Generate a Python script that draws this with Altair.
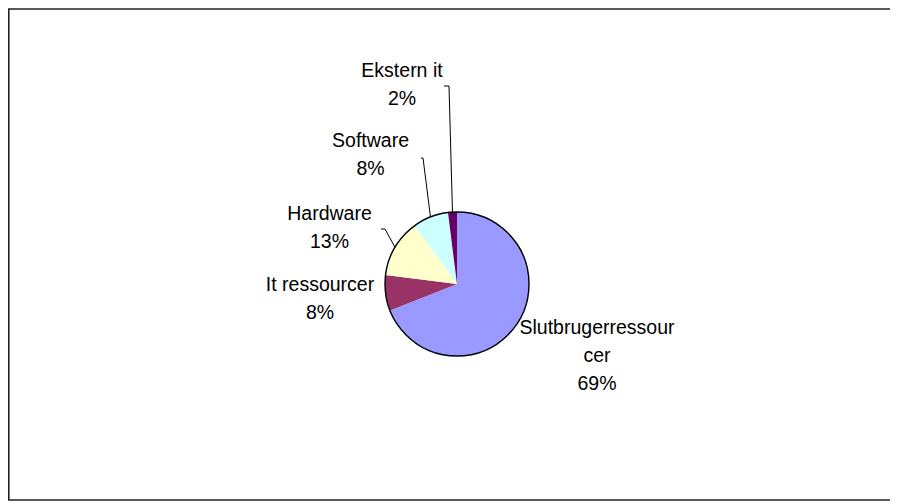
import altair as alt
import pandas as pd
import numpy as np
import textwrap

# ---- data ----
categories = ["Slutbrugerressourcer", "It ressourcer", "Hardware", "Software", "Ekstern it"]
values = [69, 8, 13, 8, 2]
colors = ["#9999FF", "#993366", "#FFFFCC", "#CCFFFF", "#660066"]

# ---- layout (pixels relative to pie centre) ----
W, H = 882, 494
CX, CY = 449, 276
R = 72
LH = 28
label_dx = [140, -137, -127.5, -86.5, -55]
label_dy = [71.5, 15, -56.5, -129, -199]
leader_elbow = [None, None, (-72, -55), (-34, -126), (-8, -198)]
leader_tick = [None, None, 4, 2, 5]

total = sum(values)
pct = [round(v / total * 100) for v in values]
df = pd.DataFrame({"category": categories, "value": values, "idx": range(len(values))})

labels, first_dy = [], []
for c, p, d in zip(categories, pct, label_dy):
    lines = textwrap.wrap(c, 17) + [f"{p}%"]
    labels.append("\n".join(lines))
    first_dy.append(d - (len(lines) - 1) * LH / 2)
df_lab = pd.DataFrame({"label": labels, "dx": label_dx, "dy": first_dy})

rows = []
cum = 0.0
for i, v in enumerate(values):
    mid = (cum + v / 2) / total * 2 * np.pi
    cum += v
    if leader_elbow[i] is None:
        continue
    rx, ry = R * np.sin(mid), -R * np.cos(mid)
    ex, ey = leader_elbow[i]
    pts = [(rx, ry), (ex, ey), (ex - leader_tick[i], ey)]
    for k, (px, py) in enumerate(pts):
        rows.append({"cat": categories[i], "o": k, "dx": px, "dy": py})
df_lead = pd.DataFrame(rows)

xs = alt.Scale(domain=[-CX, W - CX], range=[0, W], nice=False, zero=False)
ys = alt.Scale(domain=[-CY, H - CY], range=[0, H], nice=False, zero=False)

pie = alt.Chart(df).mark_arc(radius=R, strokeWidth=0).encode(
    theta=alt.Theta("value:Q", stack=True),
    color=alt.Color("category:N", scale=alt.Scale(domain=categories, range=colors), legend=None),
    order=alt.Order("idx:Q"),
    x=alt.value(CX),
    y=alt.value(CY),
)

outline = alt.Chart(pd.DataFrame({"a": [0]})).mark_point(
    shape="circle", size=float((2 * R) ** 2), filled=False, stroke="black", strokeWidth=1.4, opacity=1
).encode(x=alt.value(CX), y=alt.value(CY))

text = alt.Chart(df_lab).mark_text(
    font="Liberation Sans", fontSize=19.5, lineHeight=LH, align="center", baseline="middle",
    lineBreak="\n", color="black"
).encode(
    x=alt.X("dx:Q", scale=xs, axis=None),
    y=alt.Y("dy:Q", scale=ys, axis=None),
    text="label:N",
)

leads = alt.Chart(df_lead).mark_line(color="black", strokeWidth=1).encode(
    x=alt.X("dx:Q", scale=xs, axis=None),
    y=alt.Y("dy:Q", scale=ys, axis=None),
    detail="cat:N",
    order="o:Q",
)

# chart frame (right side runs past the page edge, as in the reference)
frame = alt.Chart(pd.DataFrame({"a": [0]})).mark_rect(
    fill="transparent", stroke="#222222", strokeWidth=1.6
).encode(x=alt.value(0.8), x2=alt.value(W + 30), y=alt.value(1), y2=alt.value(H - 2))

chart = alt.layer(pie, outline, leads, text, frame).properties(
    width=W, height=H, padding=0, autosize=alt.AutoSizeParams(type="none"),
    background="white",
    view=alt.ViewBackground(strokeOpacity=0, strokeWidth=0),
).configure_view(stroke="transparent", strokeWidth=0, strokeOpacity=0)

chart.save("out.html", embed_options={"renderer": "svg", "actions": False})
